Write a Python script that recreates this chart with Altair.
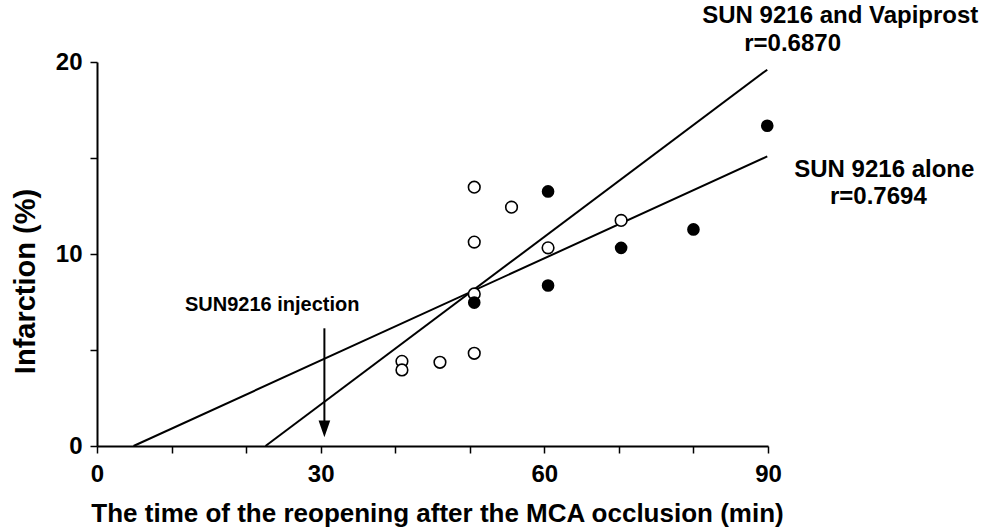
import altair as alt
import pandas as pd

# ---- data ----
open_x = [50.6, 55.6, 50.6, 60.5, 70.3, 50.6, 50.6, 40.9, 40.9, 46.0]
open_y = [13.48, 12.44, 10.62, 10.32, 11.75, 7.92, 4.83, 4.41, 3.96, 4.36]
filled_x = [60.5, 50.6, 60.5, 70.3, 80.0, 89.9]
filled_y = [13.26, 7.47, 8.36, 10.32, 11.28, 16.68]

line_series = ["alone", "alone", "vapiprost", "vapiprost"]
line_x = [4.9, 89.9, 22.6, 89.9]
line_y = [0.0, 15.08, 0.0, 19.6]

arrow_x = [30.5]
arrow_top = [6.13]
arrow_bottom = [1.2]
arrow_head_y = [0.89]

big_labels = ["SUN 9216 and Vapiprost", "r=0.6870", "SUN 9216 alone", "r=0.7694"]
big_label_x = [99.7, 93.3, 105.6, 104.8]
big_label_y = [22.01, 20.56, 14.03, 12.58]

small_labels = ["SUN9216 injection"]
small_label_x = [23.5]
small_label_y = [7.05]

x_ticks = [0, 10, 20, 30, 40, 50, 60, 70, 80, 90]
y_ticks = [0, 5, 10, 15, 20]

FONT = "Liberation Sans"

open_df = pd.DataFrame({"x": open_x, "y": open_y})
filled_df = pd.DataFrame({"x": filled_x, "y": filled_y})
line_df = pd.DataFrame({"series": line_series, "x": line_x, "y": line_y})
arrow_df = pd.DataFrame({"x": arrow_x, "y": arrow_top, "y2": arrow_bottom, "yh": arrow_head_y})
big_df = pd.DataFrame({"text": big_labels, "x": big_label_x, "y": big_label_y})
small_df = pd.DataFrame({"text": small_labels, "x": small_label_x, "y": small_label_y})

xscale = alt.Scale(domain=[0, 90], nice=False, zero=False)
yscale = alt.Scale(domain=[0, 20], nice=False, zero=False)

xaxis = alt.Axis(
    values=x_ticks,
    labelExpr="datum.value % 30 === 0 ? datum.label : ''",
    title="The time of the reopening after the MCA occlusion (min)",
    titleX=340, titleY=75, titleAlign="center", titleBaseline="alphabetic",
    titleFontSize=26, labelPadding=9,
)
yaxis = alt.Axis(
    values=y_ticks,
    labelExpr="datum.value % 10 === 0 ? datum.label : ''",
    title="Infarction (%)",
    titleX=-63, titleY=219, titleAlign="center", titleBaseline="alphabetic",
    titleFontSize=29, labelPadding=8,
)

base_x = alt.X("x:Q", scale=xscale, axis=xaxis)
base_y = alt.Y("y:Q", scale=yscale, axis=yaxis)

lines = alt.Chart(line_df).mark_line(color="black", strokeWidth=2, clip=False).encode(
    x=base_x, y=base_y, detail="series:N"
)

arrow = alt.Chart(arrow_df).mark_rule(color="black", strokeWidth=2).encode(
    x=alt.X("x:Q", scale=xscale), y=alt.Y("y:Q", scale=yscale), y2="y2:Q"
)
head = alt.Chart(arrow_df).mark_point(
    shape="M-0.7,-1L0.7,-1L0,1Z", filled=True, color="black", size=279, opacity=1
).encode(x=alt.X("x:Q", scale=xscale), y=alt.Y("yh:Q", scale=yscale))

open_pts = alt.Chart(open_df).mark_point(
    shape="circle", filled=True, fill="white", stroke="black", strokeWidth=1.6,
    size=135, opacity=1
).encode(x=alt.X("x:Q", scale=xscale), y=alt.Y("y:Q", scale=yscale))

filled_pts = alt.Chart(filled_df).mark_point(
    shape="circle", filled=True, color="black", size=160, opacity=1
).encode(x=alt.X("x:Q", scale=xscale), y=alt.Y("y:Q", scale=yscale))

big_text = alt.Chart(big_df).mark_text(
    font=FONT, fontSize=24, fontWeight="bold", color="black",
    align="center", baseline="alphabetic", clip=False
).encode(x=alt.X("x:Q", scale=xscale), y=alt.Y("y:Q", scale=yscale), text="text:N")

small_text = alt.Chart(small_df).mark_text(
    font=FONT, fontSize=20, fontWeight="bold", color="black",
    align="center", baseline="alphabetic", clip=False
).encode(x=alt.X("x:Q", scale=xscale), y=alt.Y("y:Q", scale=yscale), text="text:N")

chart = alt.layer(lines, arrow, head, open_pts, filled_pts, big_text, small_text).properties(
    width=671, height=384,
    autosize=alt.AutoSizeParams(type="none"),
    padding={"left": 97, "top": 62, "right": 233, "bottom": 83},
    background="white",
).configure_view(stroke=None).configure_axis(
    grid=False,
    domainColor="black", domainWidth=2,
    tickColor="black", tickWidth=1.5, tickSize=7,
    labelFont=FONT, labelFontSize=24, labelFontWeight="bold", labelColor="black",
    labelFlush=False, labelOverlap=False,
    titleFont=FONT, titleFontWeight="bold", titleColor="black",
)

chart.save("out.html", embed_options={"renderer": "svg", "actions": False})
